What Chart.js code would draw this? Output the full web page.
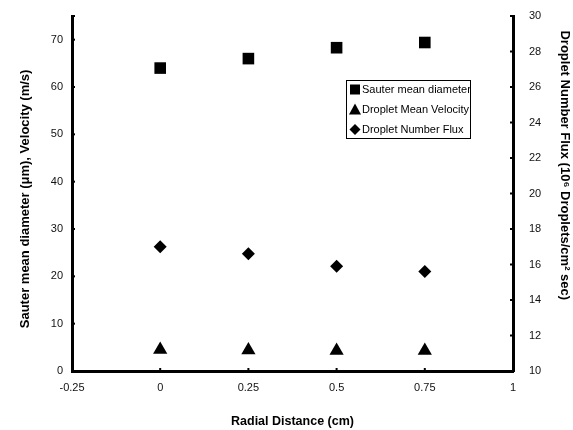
<!DOCTYPE html>
<html>
<head>
<meta charset="utf-8">
<script src="https://cdn.jsdelivr.net/npm/chart.js@4/dist/chart.umd.min.js"></script>
<style>
  html, body { margin: 0; padding: 0; background: #fff; }
  #wrap { position: relative; width: 573px; height: 430px; }
</style>
</head>
<body>
<div id="wrap"><canvas id="c" width="573" height="430"></canvas></div>
<script>
// ---- data ----
const radialDistance = [0, 0.25, 0.5, 0.75];
const sauterDiameter = [64.0, 66.0, 68.3, 69.4];
const meanVelocity = [4.5, 4.4, 4.3, 4.3];
const numberFlux = [17.0, 16.6, 15.9, 15.6];

const xTicks = [-0.25, 0, 0.25, 0.5, 0.75, 1];
const leftTicks = [0, 10, 20, 30, 40, 50, 60, 70];
const rightTicks = [10, 12, 14, 16, 18, 20, 22, 24, 26, 28, 30];

const seriesLabels = ['Sauter mean diameter', 'Droplet Mean Velocity', 'Droplet Number Flux'];

const toPts = (xs, ys) => xs.map((x, i) => ({ x: x, y: ys[i] }));

const FONT = "'Liberation Sans', Arial, sans-serif";

const innerTicks = {
  id: 'innerTicks',
  afterDraw(chart) {
    const ctx = chart.ctx;
    const a = chart.chartArea;
    ctx.save();
    ctx.strokeStyle = '#000';
    ctx.lineWidth = 2;
    const yl = chart.scales.y, yr = chart.scales.y2, x = chart.scales.x;
    leftTicks.concat([75]).forEach(v => {
      const p = yl.getPixelForValue(v);
      ctx.beginPath(); ctx.moveTo(a.left, p); ctx.lineTo(a.left + 3, p); ctx.stroke();
    });
    rightTicks.forEach(v => {
      const p = yr.getPixelForValue(v);
      ctx.beginPath(); ctx.moveTo(a.right, p); ctx.lineTo(a.right - 3, p); ctx.stroke();
    });
    xTicks.forEach(v => {
      const p = x.getPixelForValue(v);
      ctx.beginPath(); ctx.moveTo(p, a.bottom); ctx.lineTo(p, a.bottom - 3); ctx.stroke();
    });
    ctx.restore();
  }
};

const boxLegend = {
  id: 'boxLegend',
  afterDraw(chart) {
    const ctx = chart.ctx;
    const bx = 346, by = 80, bw = 124, bh = 58;
    ctx.save();
    ctx.fillStyle = '#fff';
    ctx.fillRect(bx, by, bw, bh);
    ctx.strokeStyle = '#000';
    ctx.lineWidth = 1;
    ctx.strokeRect(bx + 0.5, by + 0.5, bw, bh);
    ctx.font = '11px ' + FONT;
    ctx.textBaseline = 'middle';
    ctx.textAlign = 'left';
    chart.data.datasets.forEach((ds, i) => {
      const cy = by + 9.5 + i * 20;
      const cx = bx + 9;
      ctx.fillStyle = '#000';
      ctx.beginPath();
      if (ds.pointStyle === 'rect') {
        ctx.rect(cx - 5, cy - 5, 10, 10);
      } else if (ds.pointStyle === 'triangle') {
        ctx.moveTo(cx, cy - 6); ctx.lineTo(cx + 6, cy + 5); ctx.lineTo(cx - 6, cy + 5); ctx.closePath();
      } else {
        ctx.moveTo(cx, cy - 5.5); ctx.lineTo(cx + 5.5, cy); ctx.lineTo(cx, cy + 5.5); ctx.lineTo(cx - 5.5, cy); ctx.closePath();
      }
      ctx.fill();
      ctx.fillText(ds.label, bx + 16, cy + 0.5);
    });
    ctx.restore();
  }
};

const fmt = v => String(v);

new Chart(document.getElementById('c'), {
  type: 'scatter',
  data: {
    datasets: [
      { label: seriesLabels[0], data: toPts(radialDistance, sauterDiameter), yAxisID: 'y',
        pointStyle: 'rect', pointRadius: 8.2, backgroundColor: '#000', borderColor: '#000', borderWidth: 0 },
      { label: seriesLabels[1], data: toPts(radialDistance, meanVelocity), yAxisID: 'y',
        pointStyle: 'triangle', pointRadius: 8.2, backgroundColor: '#000', borderColor: '#000', borderWidth: 0 },
      { label: seriesLabels[2], data: toPts(radialDistance, numberFlux), yAxisID: 'y2',
        pointStyle: 'rectRot', pointRadius: 6.5, backgroundColor: '#000', borderColor: '#000', borderWidth: 0 }
    ]
  },
  options: {
    responsive: false,
    animation: false,
    layout: { padding: { top: 16, left: 0, right: 0, bottom: 0 } },
    plugins: { legend: { display: false }, tooltip: { enabled: false } },
    scales: {
      x: {
        type: 'linear', min: -0.25, max: 1,
        afterBuildTicks: ax => { ax.ticks = xTicks.map(v => ({ value: v })); },
        afterFit: ax => { ax.height = 59; ax.paddingLeft = 0; ax.paddingRight = 0; },
        grid: { display: false, drawTicks: false },
        border: { display: true, color: '#000', width: 3 },
        ticks: { color: '#111', font: { family: FONT, size: 11 }, padding: 10, maxRotation: 0, callback: fmt },
        title: { display: true, text: 'Radial Distance (cm)', color: '#000',
                 font: { family: FONT, size: 12.5, weight: 'bold' }, padding: { top: 0, bottom: 1 } }
      },
      y: {
        type: 'linear', position: 'left', min: 0, max: 75,
        afterBuildTicks: ax => { ax.ticks = leftTicks.map(v => ({ value: v })); },
        afterFit: ax => { ax.width = 72; ax.paddingTop = 0; ax.paddingBottom = 0; },
        grid: { display: false, drawTicks: false },
        border: { display: true, color: '#000', width: 3 },
        ticks: { color: '#111', font: { family: FONT, size: 11 }, padding: 9, callback: fmt },
        title: { display: true, text: 'Sauter mean diameter (μm), Velocity (m/s)   ', color: '#000',
                 font: { family: FONT, size: 13, weight: 'bold' }, padding: { top: 18, bottom: 0 } }
      },
      y2: {
        type: 'linear', position: 'right', min: 10, max: 30,
        afterBuildTicks: ax => { ax.ticks = rightTicks.map(v => ({ value: v })); },
        afterFit: ax => { ax.width = 60; ax.paddingTop = 0; ax.paddingBottom = 0; },
        grid: { display: false, drawTicks: false },
        border: { display: true, color: '#000', width: 3 },
        ticks: { color: '#111', font: { family: FONT, size: 11 }, padding: 16, callback: fmt },
        title: { display: true, align: 'end', text: '    Droplet Number Flux (10⁶ Droplets/cm² sec)', color: '#000',
                 font: { family: FONT, size: 13, weight: 'bold' }, padding: { top: 1, bottom: 0 } }
      }
    }
  },
  plugins: [innerTicks, boxLegend]
});
</script>
</body>
</html>
